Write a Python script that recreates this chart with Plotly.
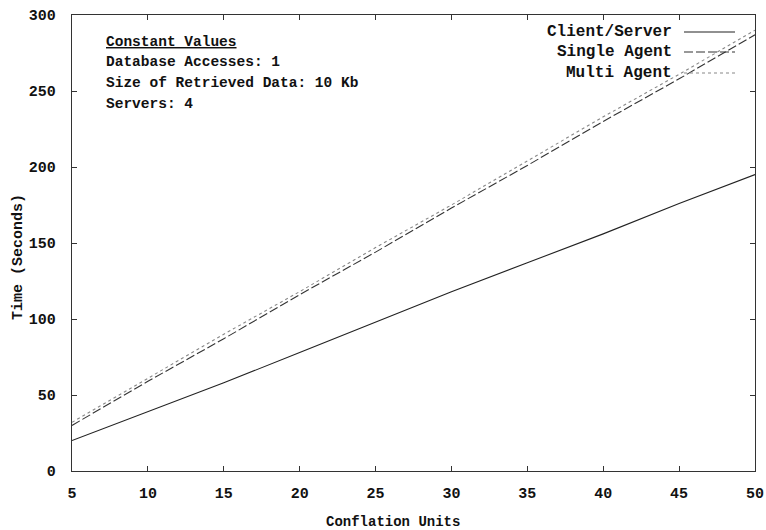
import plotly.graph_objects as go

# Data
conflation_units = [5, 10, 15, 20, 25, 30, 35, 40, 45, 50]
client_server = [20, 39, 58, 78, 98, 118, 137, 156, 176, 195]
single_agent = [30, 59, 87, 116, 144, 173, 201, 230, 258, 287]
multi_agent = [32, 61, 90, 118, 147, 175, 204, 233, 261, 290]

series_names = ["Client/Server", "Single Agent", "Multi Agent"]
series_values = [client_server, single_agent, multi_agent]
series_colors = ["#222222", "#333333", "#888888"]
series_dash = ["solid", "9px,3px", "3px,3px"]

x_ticks = [5, 10, 15, 20, 25, 30, 35, 40, 45, 50]
y_ticks = [0, 50, 100, 150, 200, 250, 300]

note_title = "Constant Values"
note_lines = ["Database Accesses: 1", "Size of Retrieved Data: 10 Kb", "Servers: 4"]

FONT = "Liberation Mono"
L, R, T, B = 72, 11, 15, 59
W, H = 766, 530
PW, PH = W - L - R, H - T - B


def px(xp):
    return (xp - L) / PW


def py(yp):
    return (H - B - yp) / PH


fig = go.Figure()
for name, vals, col, dash in zip(series_names, series_values, series_colors, series_dash):
    fig.add_trace(go.Scatter(x=conflation_units, y=vals, mode="lines", name=name,
                             line=dict(color=col, width=1.1, dash=dash),
                             showlegend=False))

annotations = []
shapes = []
# gnuplot-style key: label then sample line
key_rows = [32, 52, 73]
for name, col, dash, yr in zip(series_names, series_colors, series_dash, key_rows):
    annotations.append(dict(xref="paper", yref="paper", x=px(674), y=py(yr),
                            text="<b>%s</b>" % name, showarrow=False,
                            xanchor="right", yanchor="middle",
                            font=dict(family=FONT, size=16, color="#111")))
    shapes.append(dict(type="line", xref="paper", yref="paper",
                       x0=px(684), x1=px(735), y0=py(yr), y1=py(yr),
                       line=dict(color=col, width=1.1, dash=dash)))

annotations.append(dict(xref="paper", yref="paper", x=px(104), y=py(42),
                        text="<b><u>%s</u></b>" % note_title, showarrow=False,
                        xanchor="left", yanchor="middle",
                        font=dict(family=FONT, size=14.5, color="#111")))
for txt, yr in zip(note_lines, [62, 83, 104]):
    annotations.append(dict(xref="paper", yref="paper", x=px(104), y=py(yr),
                            text="<b>%s</b>" % txt, showarrow=False,
                            xanchor="left", yanchor="middle",
                            font=dict(family=FONT, size=14.5, color="#111")))

# axis titles
annotations.append(dict(xref="paper", yref="paper", x=px(393), y=py(522),
                        text="<b>Conflation Units</b>", showarrow=False,
                        xanchor="center", yanchor="middle",
                        font=dict(family=FONT, size=14, color="#111")))
annotations.append(dict(xref="paper", yref="paper", x=px(18), y=py(257),
                        text="<b>Time (Seconds)</b>", showarrow=False, textangle=-90,
                        xanchor="center", yanchor="middle",
                        font=dict(family=FONT, size=15, color="#111")))

axis_common = dict(showgrid=False, zeroline=False, showline=True, linecolor="#333",
                   linewidth=1.3, mirror="ticks", ticks="inside", ticklen=5,
                   tickcolor="#333", tickwidth=1, automargin=False,
                   ticklabeloverflow="allow",
                   tickfont=dict(family=FONT, size=15, color="#111"))

fig.update_layout(
    width=W, height=H,
    margin=dict(l=L, r=R, t=T, b=B, autoexpand=False),
    paper_bgcolor="white", plot_bgcolor="white",
    xaxis=dict(range=[5, 50], tickvals=x_ticks,
               ticktext=["<b>%d</b>" % v for v in x_ticks],
               ticklabelstandoff=8, **axis_common),
    yaxis=dict(range=[0, 300], tickvals=y_ticks,
               ticktext=["<b>%d</b>" % v for v in y_ticks],
               ticklabelstandoff=12, **axis_common),
    annotations=annotations,
    shapes=shapes,
    showlegend=False,
)

fig.write_html("out.html")
